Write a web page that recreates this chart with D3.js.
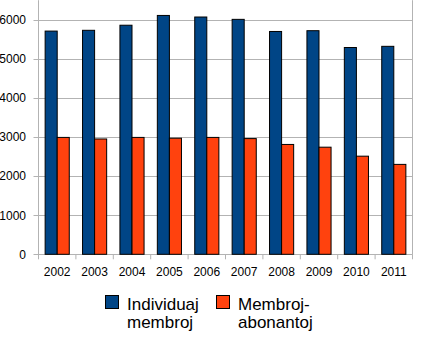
<!DOCTYPE html>
<html><head><meta charset="utf-8">
<script src="https://cdn.jsdelivr.net/npm/d3@7"></script>
<style>body{margin:0;background:#fff}svg{display:block}</style>
</head><body>
<script>
const years = ["2002","2003","2004","2005","2006","2007","2008","2009","2010","2011"];
const individuaj = [5710, 5730, 5860, 6110, 6070, 6010, 5700, 5720, 5290, 5320];
const abonantoj = [2990, 2950, 2990, 2970, 2990, 2960, 2810, 2740, 2510, 2300];
const seriesNames = ["Individuaj\nmembroj", "Membroj-\nabonantoj"];
const colors = ["#004586", "#ff420e"];
const yTicks = [0,1000,2000,3000,4000,5000,6000];

(function(){
const W = 421, H = 342;
const svg = d3.select("body").append("svg").attr("width", W).attr("height", H);
const pL = 38.5, pR = 412.5, pT = 0.2, pB = 254.3;
const x = d3.scaleBand().domain(years).range([pL, pR]).paddingInner(0).paddingOuter(0);
const y = d3.scaleLinear().domain([0, 6500]).range([pB, pT]);
const inner = d3.scaleBand().domain([0,1]).range([0, x.bandwidth()]).paddingOuter(0.55).paddingInner(0);
const font = "Liberation Sans, Arial, sans-serif";

svg.append("g").selectAll("line").data(yTicks).join("line")
  .attr("x1", pL - 5).attr("x2", pR)
  .attr("y1", d => Math.round(y(d)) + 0.5).attr("y2", d => Math.round(y(d)) + 0.5)
  .attr("stroke", "#b3b3b3").attr("stroke-width", 1);
svg.append("line").attr("x1", pL).attr("x2", pL).attr("y1", pT).attr("y2", pB).attr("stroke", "#b3b3b3");
svg.append("line").attr("x1", pR).attr("x2", pR).attr("y1", pT).attr("y2", pB).attr("stroke", "#b3b3b3");

svg.append("g").selectAll("text").data(yTicks).join("text")
  .attr("x", 26).attr("y", d => y(d)).attr("dy", "0.36em")
  .attr("text-anchor", "end").attr("font-family", font)
  .attr("font-size", 12).attr("fill", "#000").text(d => d);

const bounds = years.map(d => x(d)).concat([pR]);
svg.append("g").selectAll("line").data(bounds).join("line")
  .attr("x1", d => d).attr("x2", d => d).attr("y1", pB).attr("y2", pB + 5)
  .attr("stroke", "#b3b3b3");
svg.append("g").selectAll("text").data(years).join("text")
  .attr("x", d => x(d) + x.bandwidth()/2).attr("y", 276)
  .attr("text-anchor", "middle").attr("font-family", font)
  .attr("font-size", 12).attr("fill", "#000").text(d => d);

const data = [individuaj, abonantoj];
data.forEach((vals, si) => {
  svg.append("g").selectAll("rect").data(vals).join("rect")
    .attr("x", (d, i) => x(years[i]) + inner(si))
    .attr("width", inner.bandwidth())
    .attr("y", d => y(d))
    .attr("height", d => y(0) - y(d))
    .attr("fill", colors[si]).attr("stroke", "#000").attr("stroke-width", 1);
});

const legX = [105.5, 216.5];
seriesNames.forEach((name, i) => {
  svg.append("rect").attr("x", legX[i]).attr("y", 295.5).attr("width", 13).attr("height", 13)
    .attr("fill", colors[i]).attr("stroke", "#000");
  name.split("\n").forEach((ln, j) => {
    svg.append("text").attr("x", legX[i] + 21.5).attr("y", 309.5 + j * 18)
      .attr("font-family", font).attr("font-size", 17).attr("fill", "#000").text(ln);
  });
});
})();
</script>
</body></html>
